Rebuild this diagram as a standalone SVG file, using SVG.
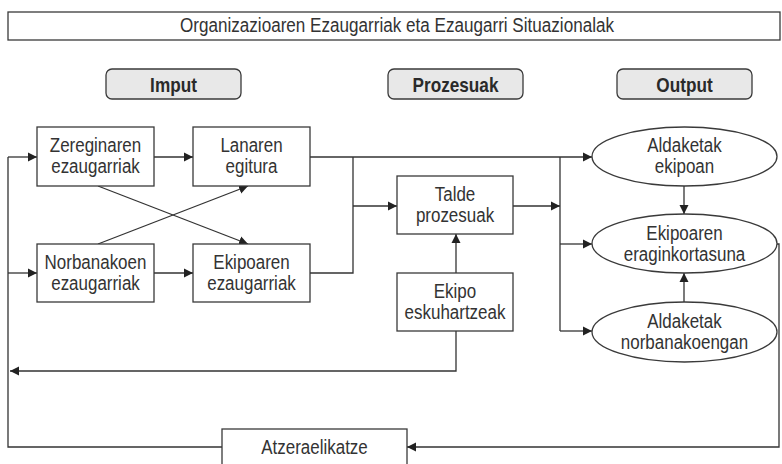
<svg xmlns="http://www.w3.org/2000/svg" width="782" height="464" viewBox="0 0 782 464">
  <defs>
    <marker id="arrow" viewBox="0 0 10 10" refX="10" refY="5" markerWidth="9" markerHeight="10" markerUnits="userSpaceOnUse" orient="auto">
      <path d="M0,0 L10,5 L0,10 z" fill="#222"/>
    </marker>
  </defs>
  <style>
    .box { fill: #ffffff; stroke: #3a3a3a; stroke-width: 1.3; }
    .pill { fill: #e8e8e8; stroke: #3a3a3a; stroke-width: 1.3; }
    .txt { font-family: "Liberation Sans", Arial, sans-serif; font-size: 19.5px; fill: #333333; text-anchor: middle; }
    .head { font-family: "Liberation Sans", Arial, sans-serif; font-size: 20px; font-weight: bold; fill: #2a2a2a; text-anchor: middle; }
    .line { fill: none; stroke: #333333; stroke-width: 1.3; }
    .arr { fill: none; stroke: #333333; stroke-width: 1.3; marker-end: url(#arrow); }
  </style>
  <rect width="782" height="464" fill="#ffffff"/>

  <!-- title banner -->
  <g id="title">
    <rect class="box" x="8" y="12" width="772" height="28"/>
    <text class="txt" x="397" y="32" font-size="18" textLength="434" lengthAdjust="spacingAndGlyphs">Organizazioaren Ezaugarriak eta Ezaugarri Situazionalak</text>
  </g>

  <!-- column headers (condensed bold labels) -->
  <g id="hdr-imput">
    <rect class="pill" x="106" y="69" width="135" height="30" rx="6"/>
    <text class="head" transform="translate(173.5,92) scale(0.86,1)">Imput</text>
  </g>
  <g id="hdr-prozesuak">
    <rect class="pill" x="388" y="69" width="135" height="30" rx="6"/>
    <text class="head" transform="translate(455.5,92) scale(0.86,1)">Prozesuak</text>
  </g>
  <g id="hdr-output">
    <rect class="pill" x="617" y="69" width="135" height="30" rx="6"/>
    <text class="head" transform="translate(684.5,92) scale(0.86,1)">Output</text>
  </g>

  <!-- connectors -->
  <g id="connectors">
    <!-- feedback loop on the left -->
    <path class="line" d="M222,447 H8 V157"/>
    <path class="arr" d="M8,157 H37"/>
    <path class="arr" d="M8,273 H37"/>
    <!-- input row links -->
    <path class="arr" d="M154,157 H193"/>
    <path class="arr" d="M154,273 H193"/>
    <path class="arr" d="M98,186 L248,244"/>
    <path class="arr" d="M98,244 L248,186"/>
    <!-- to outputs and processes -->
    <path class="arr" d="M310,157 H592"/>
    <path class="line" d="M310,273 H353 V157"/>
    <path class="arr" d="M353,206 H397"/>
    <path class="arr" d="M513,206 H560"/>
    <path class="line" d="M560,157 V331"/>
    <path class="arr" d="M560,244 H592"/>
    <path class="arr" d="M560,331 H592"/>
    <!-- between output ellipses -->
    <path class="arr" d="M684,186 V214"/>
    <path class="arr" d="M684,302 V273"/>
    <!-- team interventions -->
    <path class="arr" d="M456,273 V234"/>
    <path class="arr" d="M456,331 V371 H10"/>
    <!-- effectiveness back to feedback -->
    <path class="arr" d="M777,244 H779 V447 H407"/>
  </g>

  <!-- input nodes -->
  <g id="zereginaren">
    <rect class="box" x="37" y="127" width="117" height="59"/>
    <text class="txt" transform="translate(95.5,152) scale(0.87,1)">Zereginaren</text>
    <text class="txt" transform="translate(95.5,173) scale(0.87,1)">ezaugarriak</text>
  </g>
  <g id="lanaren">
    <rect class="box" x="193" y="127" width="117" height="59"/>
    <text class="txt" transform="translate(251.5,152) scale(0.87,1)">Lanaren</text>
    <text class="txt" transform="translate(251.5,173) scale(0.87,1)">egitura</text>
  </g>
  <g id="norbanakoen">
    <rect class="box" x="37" y="244" width="117" height="58"/>
    <text class="txt" transform="translate(95.5,269) scale(0.87,1)">Norbanakoen</text>
    <text class="txt" transform="translate(95.5,290) scale(0.87,1)">ezaugarriak</text>
  </g>
  <g id="ekipoaren">
    <rect class="box" x="193" y="244" width="117" height="58"/>
    <text class="txt" transform="translate(251.5,269) scale(0.87,1)">Ekipoaren</text>
    <text class="txt" transform="translate(251.5,290) scale(0.87,1)">ezaugarriak</text>
  </g>

  <!-- process nodes -->
  <g id="talde">
    <rect class="box" x="397" y="176" width="116" height="58"/>
    <text class="txt" transform="translate(455,201) scale(0.87,1)">Talde</text>
    <text class="txt" transform="translate(455,222) scale(0.87,1)">prozesuak</text>
  </g>
  <g id="ekipo-eskuhartzeak">
    <rect class="box" x="397" y="273" width="116" height="58"/>
    <text class="txt" transform="translate(455,298) scale(0.87,1)">Ekipo</text>
    <text class="txt" transform="translate(455,319) scale(0.87,1)">eskuhartzeak</text>
  </g>

  <!-- output nodes -->
  <g id="aldaketak-ekipoan">
    <ellipse class="box" cx="684.5" cy="156.5" rx="92.5" ry="29.5"/>
    <text class="txt" transform="translate(684.5,152) scale(0.87,1)">Aldaketak</text>
    <text class="txt" transform="translate(684.5,173) scale(0.87,1)">ekipoan</text>
  </g>
  <g id="eraginkortasuna">
    <ellipse class="box" cx="684.5" cy="243.5" rx="92.5" ry="29.5"/>
    <text class="txt" transform="translate(684.5,240) scale(0.87,1)">Ekipoaren</text>
    <text class="txt" transform="translate(684.5,261) scale(0.87,1)">eraginkortasuna</text>
  </g>
  <g id="aldaketak-norbanakoengan">
    <ellipse class="box" cx="684.5" cy="332" rx="92.5" ry="30"/>
    <text class="txt" transform="translate(684.5,328) scale(0.87,1)">Aldaketak</text>
    <text class="txt" transform="translate(684.5,349) scale(0.87,1)">norbanakoengan</text>
  </g>

  <!-- feedback node -->
  <g id="atzeraelikatze">
    <rect class="box" x="222" y="429" width="185" height="45"/>
    <text class="txt" transform="translate(314.5,454) scale(0.87,1)">Atzeraelikatze</text>
  </g>
</svg>
